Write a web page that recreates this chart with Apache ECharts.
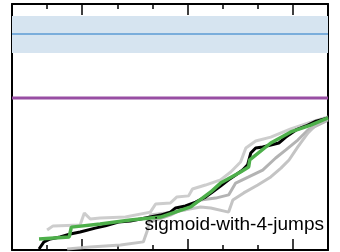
<!DOCTYPE html>
<html lang="en">
<head>
    <meta charset="UTF-8">
    <title>sigmoid-with-4-jumps</title>
    <style>
        html, body { margin: 0; padding: 0; background: #fff; }
        #chart { width: 340px; height: 252px; }
    </style>
</head>
<body>
<div id="chart"></div>
<script src="https://cdn.jsdelivr.net/npm/echarts@6/dist/echarts.min.js"></script>
<script>
    // x runs 0..9, y runs 0..1
    var tickCats = ['0', '1', '2', '3', '4', '5', '6', '7', '8', '9'];

    var bandLow = 0.801, bandHigh = 0.951;
    var blueLevel = 0.878;
    var purpleLevel = 0.618;

    var greenX = [0.77, 1.63, 1.69, 2.51, 3.37, 4.23, 5.09, 5.66, 5.94, 6.51, 6.74, 6.77, 7.37, 7.94, 8.51, 9.0];
    var greenY = [0.045, 0.053, 0.093, 0.106, 0.122, 0.134, 0.175, 0.236, 0.272, 0.317, 0.337, 0.366, 0.435, 0.48, 0.508, 0.537];

    var blackX = [0.77, 0.91, 1.09, 1.37, 1.66, 1.94, 2.37, 2.66, 3.03, 3.37, 3.66, 3.94, 4.23, 4.51, 4.66, 4.94, 5.23, 5.51, 5.71, 5.94, 6.17, 6.37, 6.57, 6.71, 6.8, 6.94, 7.14, 7.37, 7.6, 7.8, 8.09, 8.37, 8.66, 9.0];
    var blackY = [0.004, 0.033, 0.045, 0.053, 0.065, 0.073, 0.089, 0.098, 0.114, 0.118, 0.126, 0.134, 0.142, 0.154, 0.171, 0.179, 0.195, 0.215, 0.236, 0.26, 0.285, 0.305, 0.325, 0.346, 0.394, 0.415, 0.419, 0.427, 0.435, 0.459, 0.488, 0.504, 0.524, 0.537];

    var gray1X = [1.0, 1.17, 1.94, 2.06, 2.23, 2.51, 3.23, 3.94, 4.09, 4.51, 4.69, 5.03, 5.14, 5.51, 5.94, 6.23, 6.51, 6.66, 6.94, 7.37, 7.94, 8.51, 9.0];
    var gray1Y = [0.081, 0.098, 0.102, 0.15, 0.126, 0.13, 0.134, 0.154, 0.187, 0.191, 0.215, 0.22, 0.248, 0.264, 0.285, 0.317, 0.358, 0.415, 0.443, 0.459, 0.492, 0.52, 0.541];

    var gray2X = [1.57, 2.23, 3.09, 3.74, 3.86, 3.94, 4.37, 4.94, 5.37, 5.66, 6.17, 6.29, 6.6, 7.0, 7.37, 7.66, 7.89, 8.14, 8.43, 8.66, 9.0];
    var gray2Y = [0.004, 0.012, 0.02, 0.033, 0.081, 0.142, 0.15, 0.163, 0.175, 0.171, 0.154, 0.203, 0.232, 0.264, 0.297, 0.333, 0.366, 0.419, 0.476, 0.508, 0.533];

    var gray3X = [3.94, 4.51, 5.09, 5.37, 5.8, 6.17, 6.37, 6.74, 7.14, 7.51, 7.8, 8.14, 8.43, 9.0];
    var gray3Y = [0.114, 0.142, 0.183, 0.203, 0.211, 0.224, 0.272, 0.297, 0.325, 0.374, 0.407, 0.447, 0.488, 0.528];

    var label = 'sigmoid-with-4-jumps';

    function pairs(xs, ys) {
        var out = [];
        for (var i = 0; i < xs.length; i++) {
            out.push([xs[i], ys[i]]);
        }
        return out;
    }

    function flat(level) {
        return [[0, level], [9, level]];
    }

    function grayLine(xs, ys, color) {
        return {
            type: 'line', xAxisIndex: 0, yAxisIndex: 0,
            data: pairs(xs, ys), symbol: 'none', silent: true,
            lineStyle: { color: color, width: 3 }
        };
    }

    function minorAxis(pos) {
        return {
            type: 'value', position: pos, min: 0, max: 9, interval: 1,
            axisLine: { show: true, onZero: false, lineStyle: { color: '#000', width: 2 } },
            axisTick: { show: true, inside: true, length: 5, lineStyle: { color: '#000', width: 1.5 } },
            axisLabel: { show: false },
            splitLine: { show: false }
        };
    }

    function majorAxis(pos) {
        return {
            type: 'category', position: pos, data: tickCats, boundaryGap: false,
            axisLine: { show: false, onZero: false },
            axisTick: {
                show: true, inside: true, length: 11,
                interval: function (i) { return i % 3 === 2; },
                lineStyle: { color: '#000', width: 1.5 }
            },
            axisLabel: { show: false },
            splitLine: { show: false }
        };
    }

    function yAx(pos) {
        return {
            type: 'value', position: pos, min: 0, max: 1,
            axisLine: { show: true, onZero: false, lineStyle: { color: '#000', width: 2 } },
            axisTick: { show: false },
            axisLabel: { show: false },
            splitLine: { show: false }
        };
    }

    var myChart = echarts.init(document.getElementById('chart'));
    var option = {
        animation: false,
        grid: { left: 12, right: 12, top: 4, bottom: 2 },
        xAxis: [minorAxis('bottom'), minorAxis('top'), majorAxis('bottom'), majorAxis('top')],
        yAxis: [yAx('left'), yAx('right')],
        series: [
            {
                type: 'line', data: flat(blueLevel), symbol: 'none', silent: true,
                lineStyle: { color: '#5b9bd5', width: 1.5 },
                markArea: {
                    silent: true,
                    itemStyle: { color: '#d6e4f0' },
                    data: [[{ yAxis: bandLow }, { yAxis: bandHigh }]]
                },
                z: 2
            },
            {
                type: 'line', data: flat(purpleLevel), symbol: 'none', silent: true,
                lineStyle: { color: '#984ea3', width: 3 }
            },
            grayLine(gray3X, gray3Y, 'rgba(160,160,160,0.8)'),
            grayLine(gray2X, gray2Y, 'rgba(190,190,190,0.9)'),
            grayLine(gray1X, gray1Y, 'rgba(200,200,200,0.9)'),
            {
                type: 'line', data: pairs(blackX, blackY), symbol: 'none', silent: true,
                lineStyle: { color: '#000', width: 3 }
            },
            {
                type: 'line', data: pairs(greenX, greenY), symbol: 'none', silent: true,
                lineStyle: { color: '#4daf4a', width: 3.5 }
            }
        ],
        graphic: [{
            type: 'text', z: 100,
            style: {
                text: label, x: 324, y: 225,
                textAlign: 'right', textVerticalAlign: 'middle',
                font: '19px "Liberation Sans", Arial, sans-serif',
                fill: '#000'
            }
        }]
    };
    myChart.setOption(option);
</script>
</body>
</html>
